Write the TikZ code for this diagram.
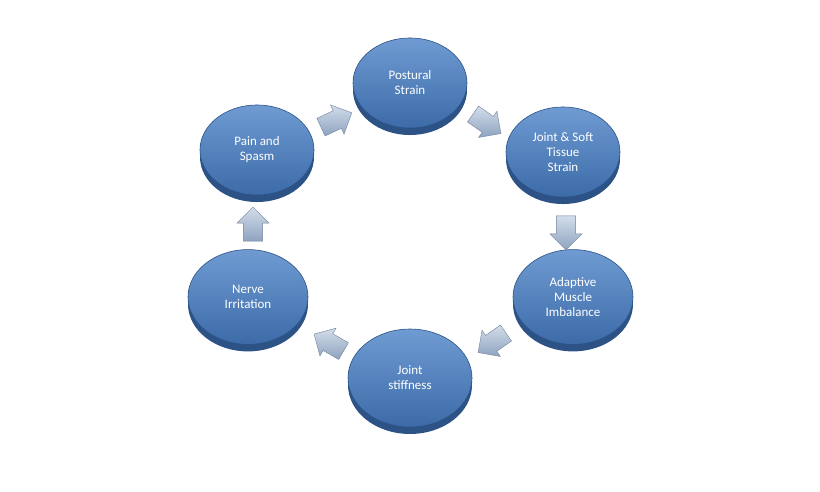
\documentclass[tikz,border=0pt]{standalone}
\usepackage{fontspec}
\setmainfont{Carlito}
\usetikzlibrary{shapes.arrows,shapes.geometric}
\definecolor{discTop}{HTML}{6F9BD2}
\definecolor{discBot}{HTML}{3C6BA8}
\definecolor{discEdge}{HTML}{2C5286}
\definecolor{arrA}{HTML}{D3DDEA}
\definecolor{arrB}{HTML}{8EA3C0}
\tikzset{
 disc/.style={ellipse,minimum width=#1*2pt,minimum height=#1*1.58pt,top color=discTop,bottom color=discBot,draw=discEdge,line width=0.6pt,text=white,font=\fontsize{13}{15}\selectfont,align=center,inner sep=0pt},
 discedge/.style={ellipse,minimum width=#1*2pt,minimum height=#1*1.58pt,fill=discEdge,inner sep=0pt},
 blk/.style={single arrow,minimum height=34pt,minimum width=32pt,single arrow head extend=6pt,inner xsep=0pt,inner ysep=9pt,top color=arrA,bottom color=arrB,draw=arrB!80!black,line width=0.4pt}
}
\newcommand{\mydisc}[5]{%
 \node[discedge=#4] at (#2,#3+7) {};
 \node[disc=#4] (#1) at (#2,#3) {#5};}
\begin{document}
\begin{tikzpicture}[x=1pt,y=-1pt]
\useasboundingbox (0,0) rectangle (820,492);
\fill[white] (0,0) rectangle (820,492);
\mydisc{ps}{410}{83}{57}{Postural\\Strain}
\mydisc{js}{563}{152}{57}{Joint \& Soft\\Tissue\\Strain}
\mydisc{am}{573}{297}{60}{Adaptive\\Muscle\\Imbalance}
\mydisc{st}{410}{378}{62}{Joint\\stiffness}
\mydisc{ni}{248}{297}{60}{Nerve\\Irritation}
\mydisc{pa}{257}{150}{57}{Pain and\\Spasm}
\node[blk,rotate=-35] (a1) at (483,121) {};
\node[blk,rotate=-90] (a2) at (566,228) {};
\node[blk,rotate=-145] (a3) at (496,340) {};
\node[blk,rotate=150] (a4) at (333,345) {};
\node[blk,rotate=90] (a5) at (253,229) {};
\node[blk,rotate=25] (a6) at (332,122) {};
\end{tikzpicture}
\end{document}
